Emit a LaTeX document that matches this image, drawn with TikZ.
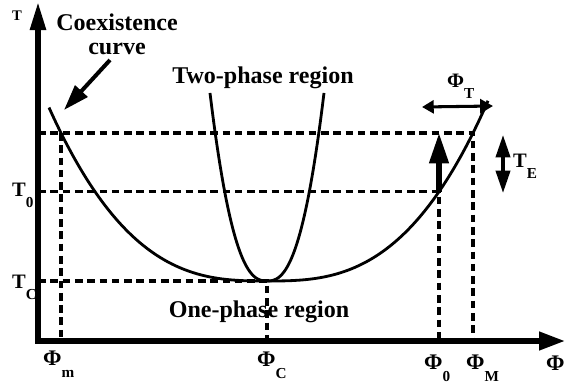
\documentclass[tikz,border=0pt]{standalone}
\usepackage{fontspec}
\setmainfont{Liberation Serif}
\usetikzlibrary{arrows.meta,calc}
\newcommand{\lo}[1]{\raisebox{-0.55em}{\fontsize{13}{13}\selectfont #1}}

\begin{document}
\begin{tikzpicture}[x=0.03cm, y=-0.03cm,
    every node/.style={font=\bfseries\fontsize{20.5}{24}\selectfont, inner sep=0pt},
    curve/.style={line width=2.4pt},
    guide/.style={line width=2.8pt, dash pattern=on 6.5pt off 4pt},
    lbl/.style={font=\bfseries\fontsize{17.5}{20}\selectfont, anchor=base west},
    phi/.style={font=\bfseries\fontsize{19}{20}\selectfont, anchor=base west},
    declare function={coex(\x)=281-148*(abs(\x)/206+0.0001)^2.8;
                      spin(\x)=281-188*(abs(\x)/57+0.0001)^2.5;}]
  \useasboundingbox (0,0) rectangle (566,386);
  \coordinate (O)  at (38,341);
  \coordinate (C)  at (267,281);
  \coordinate (Pm) at ({267-206},{coex(206)});
  \coordinate (PM) at ({267+206},{coex(206)});
  \coordinate (P0) at ({267+172},{coex(172)});
  % axes
  \draw[line width=4.4pt, line join=miter,
        {Triangle[length=24pt,width=13pt]}-{Triangle[length=22pt,width=15pt]}]
       (38,2) -- (O) -- (565,341);
  % dashed guides
  \draw[guide] (O |- PM) -- (PM) -- (PM |- O);
  \draw[guide] (Pm) -- (Pm |- O);
  \draw[guide] (O |- P0) -- (P0) -- (P0 |- O);
  \draw[guide] (O |- C) -- (C) -- (C |- O);
  % coexistence curve and two-phase curve
  \draw[curve] plot[smooth, domain=-218:221, samples=90] ({267+\x},{coex(\x)});
  \draw[curve] plot[smooth, domain=-57:57, samples=61] ({267+\x},{spin(\x)});
  % quench arrow
  \draw[line width=4.6pt, -{Triangle[length=26pt,width=16pt]}] (P0) -- (P0 |- PM);
  % T_E and Phi_T
  \coordinate (te1) at (503,135);
  \coordinate (te2) at (503,193);
  \draw[line width=3pt, {Triangle[length=19pt,width=12pt]}-{Triangle[length=19pt,width=12pt]}]
       (te1) -- (te2);
  \coordinate (pt1) at (422,107);
  \coordinate (pt2) at (493,106);
  \draw[line width=2.6pt, {Triangle[length=10pt,width=11pt]}-{Triangle[length=11pt,width=12pt]}]
       (pt1) -- (pt2);
  % labels
  \node[align=center, anchor=north, font=\bfseries\fontsize{20.5}{20.5}\selectfont]
       (coex) at (117,14) {Coexistence\\curve};
  \coordinate (coexTail) at (110,60);
  \coordinate (coexTip)  at (64,110);
  \draw[line width=3.4pt, -{Triangle[length=22pt,width=14pt]}] (coexTail) -- (coexTip);
  \node[anchor=base] (two) at (263,83)  {Two-phase region};
  \node[anchor=base] (one) at (259,317) {One-phase region};
  \node[lbl, font=\bfseries\fontsize{12.5}{13}\selectfont] (Tax) at (12,20) {T};
  \node[lbl] (T0) at (12,196) {T\lo{0}};
  \node[lbl] (TC) at (12,288) {T\lo{C}};
  \node[lbl] (TE) at (513,167) {T\lo{E}};
  \node[lbl] (PhiT) at (447,87) {Φ\lo{T}};
  \node[phi] (Phim) at (43,365) {Φ\lo{m}};
  \node[phi] (PhiC) at (257,366) {Φ\lo{C}};
  \node[phi] (Phi0) at (424,369) {Φ\lo{0}};
  \node[phi] (PhiM) at (466,369) {Φ\lo{M}};
  \node[phi] (Phi)  at (546,370) {Φ};
\end{tikzpicture}
\end{document}
